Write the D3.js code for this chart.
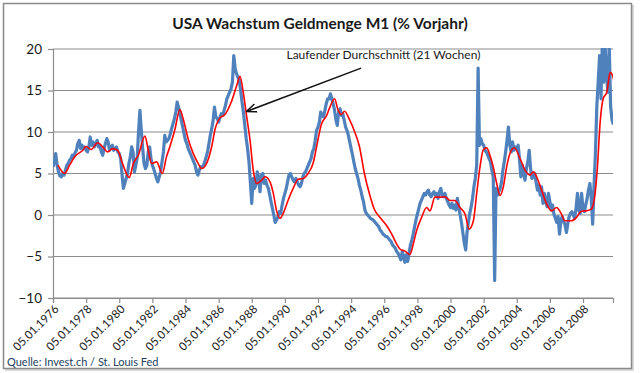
<!DOCTYPE html>
<html>
<head>
<meta charset="utf-8">
<script src="https://cdn.jsdelivr.net/npm/d3@7"></script>
<style>
  body { margin: 0; background: #fff; }
  svg { display: block; font-family: Lato, "Open Sans", sans-serif; }
</style>
</head>
<body>
<div id="chart"></div>
<script>
const chartTitle = 'USA Wachstum Geldmenge M1 (% Vorjahr)';
const sourceText = 'Quelle: Invest.ch / St. Louis Fed';
const noteText = 'Laufender Durchschnitt (21 Wochen)';

const yTicks = [-10, -5, 0, 5, 10, 15, 20];
const xTickLabels = ['05.01.1976', '05.01.1978', '05.01.1980', '05.01.1982', '05.01.1984',
  '05.01.1986', '05.01.1988', '05.01.1990', '05.01.1992', '05.01.1994', '05.01.1996',
  '05.01.1998', '05.01.2000', '05.01.2002', '05.01.2004', '05.01.2006', '05.01.2008'];

// blue series, one value per month from Jan 1976
const firstMonth = '05.01.1976';
const m1Growth = [
  5.8, 6.4, 7.4, 6.0, 5.2, 4.7, 4.6, 5.0, 4.8, 5.4, 6.0, 6.2,
  6.6, 6.8, 7.2, 7.0, 7.5, 7.8, 8.6, 9.0, 8.0, 8.4, 8.0, 8.2,
  7.8, 7.6, 8.2, 9.4, 8.4, 8.8, 8.2, 8.6, 9.0, 8.2, 8.4, 7.6,
  7.2, 8.0, 8.6, 9.2, 8.8, 7.8, 8.2, 8.4, 7.8, 8.0, 8.2, 7.6,
  7.4, 6.8, 5.0, 3.2, 3.8, 4.4, 5.0, 6.2, 7.0, 8.2, 7.6, 5.2,
  6.0, 7.0, 10.0, 12.6, 10.2, 8.0, 6.2, 5.6, 6.0, 7.6, 8.2, 6.8,
  6.0, 5.5, 5.0, 4.4, 4.0, 4.6, 5.2, 6.4, 7.6, 9.6, 8.8, 9.0,
  9.2, 9.8, 10.4, 11.0, 11.6, 12.4, 13.6, 13.0, 12.2, 11.4, 10.6, 9.8,
  9.0, 8.6, 8.0, 7.6, 7.2, 6.8, 6.4, 6.0, 5.2, 4.8, 5.4, 5.8,
  5.8, 6.0, 6.4, 7.0, 7.6, 8.6, 9.6, 10.4, 11.4, 13.0, 11.8, 11.6,
  11.2, 11.8, 12.2, 12.0, 12.6, 13.2, 14.0, 14.4, 14.8, 15.2, 16.0, 19.2,
  17.6, 17.0, 16.6, 16.2, 15.0, 13.6, 12.4, 10.8, 9.2, 8.0, 6.4, 4.0,
  1.4, 4.4, 3.2, 3.6, 5.2, 4.6, 2.8, 4.8, 5.0, 3.8, 4.2, 3.6,
  3.2, 2.4, 1.6, 0.8, 0.0, -0.9, -0.6, -0.2, 0.4, 0.2, 1.2, 2.0,
  2.6, 3.2, 4.0, 4.8, 5.0, 4.6, 4.2, 4.0, 4.4, 4.0, 3.6, 3.4,
  3.8, 4.6, 5.0, 5.2, 5.6, 6.0, 6.4, 6.8, 7.6, 8.0, 9.0, 10.2,
  10.6, 11.2, 12.4, 12.0, 11.8, 12.6, 13.4, 14.0, 14.0, 14.6, 14.0, 13.4,
  12.6, 11.4, 10.8, 12.4, 12.8, 12.0, 12.2, 11.4, 10.6, 10.2, 9.6, 8.8,
  8.0, 7.2, 6.4, 5.6, 5.0, 4.4, 3.6, 3.0, 2.2, 1.6, 0.6, 0.2,
  0.0, -0.2, -0.4, -0.5, -0.6, -0.8, -1.0, -1.2, -1.4, -1.8, -2.0, -2.3,
  -2.4, -2.6, -2.6, -2.8, -3.0, -3.2, -3.6, -3.8, -4.0, -4.4, -4.6, -5.0,
  -5.4, -4.4, -5.0, -5.7, -4.8, -5.6, -4.6, -3.6, -3.0, -2.3, -1.4, -0.6,
  0.1, 0.8, 1.4, 1.8, 2.2, 2.6, 2.4, 2.8, 3.0, 2.4, 2.2, 2.6,
  2.8, 2.4, 2.6, 2.0, 2.8, 3.2, 2.4, 2.2, 2.6, 2.0, 1.6, 1.2,
  0.9, 1.4, 0.8, 1.2, 0.6, 2.0, 1.0, 0.0, -1.0, -2.2, -3.4, -4.2,
  -2.0, -0.8, 0.2, 1.0, 2.0, 3.4, 4.4, 6.0, 17.7, 8.4, 9.2, 8.6,
  8.4, 7.8, 7.6, 7.2, 6.8, 6.4, 5.4, 4.6, -7.9, 3.2, 2.4, 2.8,
  3.2, 4.0, 5.4, 6.4, 7.6, 9.0, 10.6, 8.4, 7.6, 8.8, 7.8, 8.2,
  8.0, 8.4, 6.8, 4.6, 6.0, 5.0, 4.2, 5.6, 6.4, 7.8, 5.6, 4.4,
  4.6, 5.0, 4.0, 3.0, 3.6, 2.4, 3.4, 1.4, 2.6, 1.6, 1.0, 2.6,
  1.6, 0.6, 1.2, 0.1, -0.4, -0.9, -0.2, -2.3, -0.6, -0.2, -0.8, -1.2,
  -2.1, -1.0, -0.2, 0.2, 0.4, 0.0, -0.4, 0.8, 2.6, 0.6, 0.2, 2.6,
  0.8, 0.4, 1.2, 2.0, 3.0, 3.8, 2.0, -1.1, 3.6, 7.4, 13.1, 16.0,
  19.2, 14.0, 20.5, 16.0, 20.5, 17.0, 14.8, 20.5, 13.1, 11.5, 10.9
];

// red 21-week average, [decimal year, value]
const movingAvg = [
  [1976.3, 6.0], [1976.7, 5.0], [1977.0, 6.0], [1977.3, 7.0], [1977.8, 7.8], [1978.0, 8.25],
  [1978.3, 7.9], [1978.7, 8.7], [1979.0, 8.2], [1979.3, 7.6], [1979.6, 8.0], [1979.9, 7.8],
  [1980.2, 6.2], [1980.6, 4.5], [1980.85, 6.2], [1981.15, 7.2], [1981.55, 9.5], [1981.75, 7.8],
  [1981.95, 6.2], [1982.25, 6.4], [1982.6, 5.0], [1982.85, 7.0], [1983.06, 8.25], [1983.36, 10.3],
  [1983.66, 12.7], [1983.87, 11.5], [1984.17, 9.1], [1984.47, 7.4], [1984.77, 6.2], [1984.97, 5.6],
  [1985.27, 6.2], [1985.58, 8.25], [1985.78, 10.3], [1986.08, 11.7], [1986.38, 12.1], [1986.78, 13.7],
  [1987.09, 15.6], [1987.29, 16.7], [1987.49, 14.75], [1987.69, 11.9], [1987.89, 9.1], [1988.09, 5.4],
  [1988.29, 3.8], [1988.6, 4.2], [1988.8, 4.6], [1989.1, 4.0], [1989.3, 2.6], [1989.5, 0.5],
  [1989.7, -0.4], [1989.9, 0.2], [1990.2, 1.8], [1990.5, 3.2], [1990.8, 4.3], [1991.1, 4.4],
  [1991.4, 5.0], [1991.7, 6.2], [1992.0, 9.1], [1992.2, 10.9], [1992.5, 11.9], [1992.7, 12.9],
  [1993.0, 14.0], [1993.2, 12.7], [1993.4, 12.1], [1993.6, 12.5], [1993.9, 11.5], [1994.2, 10.1],
  [1994.5, 8.25], [1994.8, 5.0], [1995.1, 2.6], [1995.4, 0.7], [1995.75, -0.3], [1996.15, -1.3],
  [1996.45, -2.3], [1996.75, -3.5], [1996.95, -4.1], [1997.25, -4.35], [1997.55, -4.75], [1997.75, -3.5],
  [1997.95, -1.9], [1998.25, -0.3], [1998.56, 0.9], [1998.76, 0.5], [1999.06, 2.15], [1999.37, 2.15],
  [1999.67, 2.2], [1999.97, 1.75], [2000.27, 1.75], [2000.57, 0.9], [2000.88, 0.1], [2001.12, -1.7],
  [2001.38, -0.7], [2001.58, 2.6], [2001.78, 5.8], [2001.98, 7.85], [2002.18, 8.1], [2002.38, 7.2],
  [2002.58, 5.8], [2002.79, 3.8], [2002.99, 2.35], [2003.19, 3.4], [2003.39, 5.8], [2003.59, 7.4],
  [2003.85, 8.1], [2004.2, 6.8], [2004.5, 5.4], [2004.8, 4.8], [2005.0, 5.2], [2005.2, 4.6],
  [2005.5, 3.0], [2005.8, 1.35], [2006.1, 0.5], [2006.4, 0.9], [2006.7, 0.1], [2006.9, -0.7],
  [2007.3, -0.7], [2007.6, -0.3], [2007.9, 0.45], [2008.2, 0.5], [2008.5, 0.7], [2008.7, 2.15],
  [2008.87, 5.8], [2009.03, 11.1], [2009.23, 14.1], [2009.43, 14.75], [2009.64, 17.2], [2009.84, 16.4],
  [2009.9, 15.2]
];

// annotation: label anchor and arrow tip, in data units
const notePos = [1995.95, 18.8];
const arrowFrom = [1994.6, 17.7];
const arrowTo = [1987.72, 12.5];

const width = 640, height = 373;
const margin = { top: 49, right: 27, bottom: 75, left: 53 };

const parse = d3.timeParse('%d.%m.%Y');
const fmt = d3.timeFormat('%d.%m.%Y');
const start = parse(firstMonth);
const fromYear = yr => {
  const y0 = Math.floor(yr);
  const a = new Date(y0, 0, 5), b = new Date(y0 + 1, 0, 5);
  return new Date(+a + (yr - y0) * (b - a));
};

const blueData = m1Growth.map((v, i) => ({ date: d3.timeMonth.offset(start, i), v }));
const redData = movingAvg.map(([yr, v]) => ({ date: fromYear(yr), v }));

const svg = d3.select('#chart').append('svg')
  .attr('width', width)
  .attr('height', height);

// frame
svg.append('rect')
  .attr('x', 5).attr('y', 5).attr('width', 629).attr('height', 366)
  .attr('fill', '#d9d9d9');
svg.append('rect')
  .attr('x', 3.5).attr('y', 3.5).attr('width', 628).attr('height', 365)
  .attr('fill', '#fff').attr('stroke', '#8a8a8a').attr('stroke-width', 1.5);

const x = d3.scaleTime()
  .domain([start, fromYear(2009.81)])
  .range([margin.left, width - margin.right]);
const y = d3.scaleLinear()
  .domain([-10, 20])
  .range([height - margin.bottom, margin.top]);

svg.append('text')
  .attr('x', 320).attr('y', 29)
  .attr('text-anchor', 'middle')
  .attr('font-size', 15.5).attr('font-weight', 'bold')
  .attr('fill', '#1a1a1a')
  .text(chartTitle);

// gridlines
svg.append('g')
  .selectAll('line')
  .data(yTicks)
  .join('line')
  .attr('x1', margin.left).attr('x2', width - margin.right)
  .attr('y1', d => y(d)).attr('y2', d => y(d))
  .attr('stroke', '#8c8c8c').attr('stroke-width', 1.2);

const yAxis = svg.append('g')
  .attr('transform', `translate(${margin.left},0)`)
  .call(d3.axisLeft(y).tickValues(yTicks).tickSize(5).tickPadding(6));
yAxis.selectAll('text').attr('font-size', 13.5).attr('fill', '#1a1a1a').attr('font-family', 'Lato, sans-serif');

const xAxis = svg.append('g')
  .attr('transform', `translate(0,${y(-10)})`)
  .call(d3.axisBottom(x).tickValues(xTickLabels.map(parse)).tickFormat(fmt).tickSize(5));
xAxis.selectAll('text')
  .attr('font-size', 11.5).attr('fill', '#1a1a1a').attr('font-family', 'Lato, sans-serif')
  .attr('text-anchor', 'end')
  .attr('transform', 'translate(3,9) rotate(-45)')
  .attr('dy', '0.35em').attr('y', 0).attr('x', 0);

svg.selectAll('.domain, .tick line').attr('stroke', '#8c8c8c').attr('stroke-width', 1.2);

svg.append('clipPath').attr('id', 'plot')
  .append('rect')
  .attr('x', margin.left).attr('y', margin.top - 1)
  .attr('width', width - margin.left - margin.right)
  .attr('height', height - margin.top - margin.bottom + 1);

const line = d3.line().x(d => x(d.date)).y(d => y(d.v));

svg.append('path')
  .datum(blueData)
  .attr('clip-path', 'url(#plot)')
  .attr('d', line)
  .attr('fill', 'none')
  .attr('stroke', '#4f81bd')
  .attr('stroke-width', 3.2)
  .attr('stroke-linejoin', 'round');

svg.append('path')
  .datum(redData)
  .attr('clip-path', 'url(#plot)')
  .attr('d', line.curve(d3.curveMonotoneX))
  .attr('fill', 'none')
  .attr('stroke', '#ff0000')
  .attr('stroke-width', 1.6);

// annotation
svg.append('defs').append('marker')
  .attr('id', 'arrow')
  .attr('viewBox', '0 0 10 10')
  .attr('refX', 9).attr('refY', 5)
  .attr('markerWidth', 7).attr('markerHeight', 7)
  .attr('orient', 'auto')
  .append('path')
  .attr('d', 'M0,1 L10,5 L0,9')
  .attr('fill', 'none')
  .attr('stroke', '#111')
  .attr('stroke-width', 1.4);

svg.append('line')
  .attr('x1', x(fromYear(arrowFrom[0]))).attr('y1', y(arrowFrom[1]))
  .attr('x2', x(fromYear(arrowTo[0]))).attr('y2', y(arrowTo[1]))
  .attr('stroke', '#111').attr('stroke-width', 1.5)
  .attr('marker-end', 'url(#arrow)');

svg.append('text')
  .attr('x', x(fromYear(notePos[0]))).attr('y', y(notePos[1]))
  .attr('text-anchor', 'middle')
  .attr('font-size', 12).attr('fill', '#1a1a1a')
  .text(noteText);

svg.append('text')
  .attr('x', 7).attr('y', 366)
  .attr('font-size', 11).attr('fill', '#243f60')
  .text(sourceText);
</script>
</body>
</html>
